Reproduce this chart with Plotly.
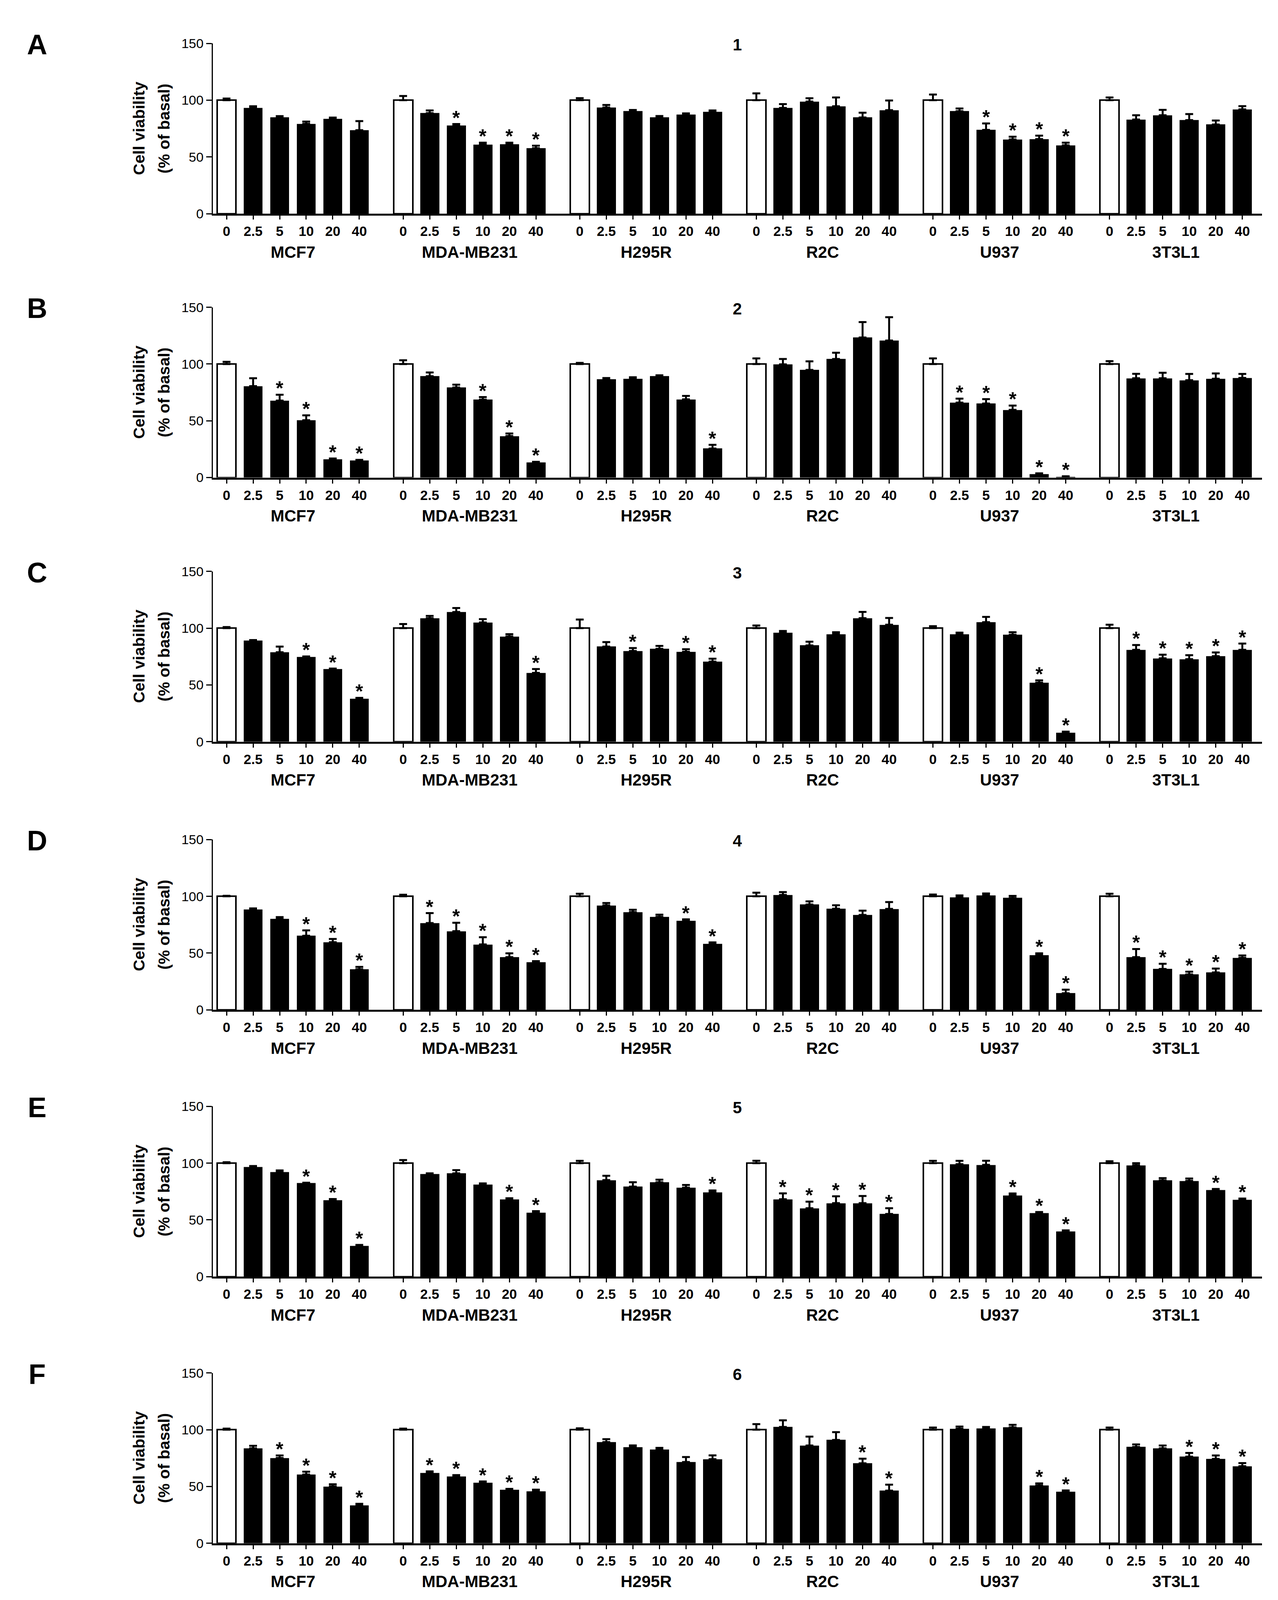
import plotly.graph_objects as go

# ---------------- data ----------------
CELL_LINES = ["MCF7", "MDA-MB231", "H295R", "R2C", "U937", "3T3L1"]
DOSES = ["0", "2.5", "5", "10", "20", "40"]
PANELS = ["A", "B", "C", "D", "E", "F"]
COMPOUNDS = ["1", "2", "3", "4", "5", "6"]
Y_TICKS = [0, 50, 100, 150]

MEAN_A = [[100, 93.2, 84.8, 79.2, 83.7, 73.6],
          [100, 88.6, 77.7, 61.0, 61.3, 57.7],
          [100, 93.6, 90.6, 85.1, 87.4, 89.7],
          [100, 93.2, 98.8, 94.7, 84.8, 91.2],
          [100, 90.3, 73.9, 65.4, 65.8, 60.3],
          [100, 83.0, 86.8, 82.5, 78.6, 91.9]]
ERR_A = [[1.5, 1.5, 1.2, 2.0, 1.0, 8.0],
         [3.7, 2.4, 1.3, 1.6, 1.3, 2.2],
         [1.8, 2.2, 0.8, 1.0, 1.0, 1.3],
         [6.0, 3.4, 2.9, 7.7, 4.2, 8.6],
         [5.0, 2.4, 5.6, 2.4, 3.0, 2.3],
         [2.4, 3.8, 4.7, 5.3, 3.5, 2.9]]
SIG_A = [[0, 0, 0, 0, 0, 0],
         [0, 0, 1, 1, 1, 1],
         [0, 0, 0, 0, 0, 0],
         [0, 0, 0, 0, 0, 0],
         [0, 0, 1, 1, 1, 1],
         [0, 0, 0, 0, 0, 0]]

MEAN_B = [[100, 80.5, 67.8, 50.5, 16.3, 15.1],
          [100, 89.3, 79.3, 68.7, 36.6, 13.4],
          [100, 86.7, 87.1, 89.3, 68.9, 25.6],
          [100, 99.7, 94.8, 104.5, 123.4, 120.7],
          [100, 66.0, 65.2, 59.6, 3.0, 0.7],
          [100, 87.5, 87.5, 85.8, 87.1, 87.8]]
ERR_B = [[2.0, 7.0, 5.2, 4.3, 0.5, 0.5],
         [3.3, 3.3, 2.5, 2.2, 2.2, 0.5],
         [1.0, 1.0, 1.3, 0.8, 3.0, 3.2],
         [5.0, 4.8, 7.6, 5.5, 13.6, 20.6],
         [5.0, 3.5, 3.9, 3.8, 0.7, 0.4],
         [2.6, 3.9, 4.8, 5.5, 4.6, 3.5]]
SIG_B = [[0, 0, 1, 1, 1, 1],
         [0, 0, 0, 1, 1, 1],
         [0, 0, 0, 0, 0, 1],
         [0, 0, 0, 0, 0, 0],
         [0, 1, 1, 1, 1, 1],
         [0, 0, 0, 0, 0, 0]]

MEAN_C = [[100, 89.0, 78.8, 74.6, 64.0, 37.8],
          [100, 108.8, 114.2, 105.0, 92.7, 60.6],
          [100, 83.8, 79.9, 81.8, 79.2, 70.5],
          [100, 95.9, 84.8, 94.7, 108.8, 103.0],
          [100, 94.7, 105.3, 94.2, 51.9, 7.9],
          [100, 80.9, 73.4, 72.7, 75.3, 80.9]]
ERR_C = [[1.0, 0.5, 5.0, 0.5, 0.4, 0.8],
         [3.6, 2.0, 3.5, 2.9, 2.0, 3.4],
         [7.6, 3.9, 2.6, 2.6, 2.2, 2.6],
         [2.3, 1.6, 3.3, 1.7, 5.5, 6.0],
         [1.7, 1.4, 4.6, 2.2, 2.1, 0.9],
         [3.0, 4.2, 3.2, 3.5, 3.3, 5.5]]
SIG_C = [[0, 0, 0, 1, 1, 1],
         [0, 0, 0, 0, 0, 1],
         [0, 0, 1, 0, 1, 1],
         [0, 0, 0, 0, 0, 0],
         [0, 0, 0, 0, 1, 1],
         [0, 1, 1, 1, 1, 1]]

MEAN_D = [[100, 88.5, 80.3, 65.3, 59.6, 35.8],
          [100, 76.5, 69.3, 57.6, 46.4, 41.9],
          [100, 92.0, 86.1, 82.0, 78.3, 58.1],
          [100, 101.2, 92.8, 89.1, 83.6, 88.9],
          [100, 99.1, 100.8, 98.6, 48.1, 14.6],
          [100, 46.4, 36.0, 31.2, 32.9, 45.8]]
ERR_D = [[0.5, 0.9, 1.4, 4.7, 2.8, 2.0],
         [1.4, 8.7, 7.4, 6.4, 3.4, 1.0],
         [2.3, 2.1, 2.1, 1.9, 1.4, 1.3],
         [3.2, 2.5, 2.8, 3.0, 3.8, 6.1],
         [1.6, 1.7, 1.7, 1.8, 1.7, 3.2],
         [2.3, 7.2, 4.6, 2.4, 3.5, 2.1]]
SIG_D = [[0, 0, 0, 1, 1, 1],
         [0, 1, 1, 1, 1, 1],
         [0, 0, 0, 0, 1, 1],
         [0, 0, 0, 0, 0, 0],
         [0, 0, 0, 0, 1, 1],
         [0, 1, 1, 1, 1, 1]]

MEAN_E = [[100, 96.8, 92.3, 82.4, 67.4, 27.1],
          [100, 90.3, 91.0, 81.3, 68.1, 56.3],
          [100, 85.1, 79.3, 83.1, 78.5, 74.3],
          [100, 68.2, 60.3, 64.8, 64.8, 55.2],
          [100, 99.1, 98.5, 71.7, 56.1, 40.0],
          [100, 98.2, 84.8, 84.4, 76.3, 67.8]]
ERR_E = [[0.8, 0.7, 1.3, 0.4, 1.0, 0.9],
         [2.7, 0.7, 2.9, 0.9, 1.0, 1.4],
         [2.0, 3.8, 3.9, 2.3, 2.3, 1.7],
         [2.1, 5.2, 5.8, 6.0, 6.3, 5.1],
         [2.0, 2.9, 3.6, 1.6, 0.9, 0.8],
         [1.7, 1.8, 2.0, 2.1, 1.0, 1.0]]
SIG_E = [[0, 0, 0, 1, 1, 1],
         [0, 0, 0, 0, 1, 1],
         [0, 0, 0, 0, 0, 1],
         [0, 1, 1, 1, 1, 1],
         [0, 0, 0, 1, 1, 1],
         [0, 0, 0, 0, 1, 1]]

MEAN_F = [[100, 83.6, 75.1, 60.5, 50.0, 33.2],
          [100, 61.8, 58.8, 53.2, 47.2, 45.6],
          [100, 89.1, 84.7, 82.4, 71.5, 74.0],
          [100, 102.4, 86.1, 91.0, 70.4, 46.3],
          [100, 100.9, 101.3, 102.1, 50.9, 45.3],
          [100, 84.8, 83.6, 76.3, 74.3, 67.8]]
ERR_F = [[1.0, 2.2, 2.2, 2.5, 1.9, 1.5],
         [1.0, 1.5, 1.2, 1.2, 0.7, 1.6],
         [1.2, 2.6, 1.5, 1.6, 4.4, 3.4],
         [4.9, 5.9, 7.8, 6.9, 4.1, 5.3],
         [1.9, 1.9, 1.1, 2.2, 1.8, 1.2],
         [1.9, 2.2, 2.5, 3.2, 3.0, 2.8]]
SIG_F = [[0, 0, 1, 1, 1, 1],
         [0, 1, 1, 1, 1, 1],
         [0, 0, 0, 0, 0, 0],
         [0, 0, 0, 0, 1, 1],
         [0, 0, 0, 0, 1, 1],
         [0, 0, 0, 1, 1, 1]]

MEANS = [MEAN_A, MEAN_B, MEAN_C, MEAN_D, MEAN_E, MEAN_F]
ERRS = [ERR_A, ERR_B, ERR_C, ERR_D, ERR_E, ERR_F]
SIGS = [SIG_A, SIG_B, SIG_C, SIG_D, SIG_E, SIG_F]

# ---------------- layout constants ----------------
W, H = 3272, 5821          # reference canvas (px)
BODY_M = 8                 # default page body margin (px)
ROW_TOP_PX = [129, 1099, 2070, 3056, 4037, 5017]
PLOT_H_PX = 626
X_LEFT_PX, X_RIGHT_PX = 545, 3231
GROUP_STEP = 6.65
X_RANGE = [-0.515, 38.99]
FONT = "Liberation Sans, Arial, Helvetica, sans-serif"


def px_x(p):
    return (p - BODY_M) / (W - 2 * BODY_M)


def px_y(p):
    return 1 - (p - BODY_M) / (H - 2 * BODY_M)


fig = go.Figure()
annotations = []

positions = [g * GROUP_STEP + i for g in range(len(CELL_LINES)) for i in range(len(DOSES))]
tick_text = DOSES * len(CELL_LINES)

for r in range(6):
    n = r + 1
    xa = "x" if n == 1 else f"x{n}"
    ya = "y" if n == 1 else f"y{n}"
    vals = [v for grp in MEANS[r] for v in grp]
    errs = [e for grp in ERRS[r] for e in grp]
    sigs = [s for grp in SIGS[r] for s in grp]
    colors = ["white" if i == 0 else "black" for g in range(6) for i in range(6)]
    lw = [4 if i == 0 else 0 for g in range(6) for i in range(6)]

    fig.add_trace(go.Bar(
        x=positions, y=vals, width=0.72,
        marker=dict(color=colors, line=dict(color="black", width=lw)),
        error_y=dict(type="data", symmetric=False, array=errs,
                     arrayminus=[0] * len(errs), color="black",
                     thickness=5, width=10),
        xaxis=xa, yaxis=ya, showlegend=False, hoverinfo="skip",
    ))

    top = ROW_TOP_PX[r]
    fig.layout[("xaxis" if n == 1 else f"xaxis{n}")] = dict(
        domain=[px_x(X_LEFT_PX), px_x(X_RIGHT_PX)], anchor=ya, range=X_RANGE,
        showline=True, linecolor="black", linewidth=5, showgrid=False,
        zeroline=False, ticks="outside", ticklen=10, tickwidth=3,
        tickcolor="black", tickvals=positions, ticktext=tick_text,
        tickfont=dict(family=FONT, size=35, color="black", weight="bold"),
        fixedrange=True,
    )
    fig.layout[("yaxis" if n == 1 else f"yaxis{n}")] = dict(
        domain=[px_y(top + PLOT_H_PX), px_y(top)], anchor=xa, range=[0, 150],
        showline=True, linecolor="black", linewidth=3, showgrid=False,
        zeroline=False, ticks="outside", ticklen=14, tickwidth=3,
        tickcolor="black", tickvals=Y_TICKS,
        tickfont=dict(family=FONT, size=34, color="black"),
        fixedrange=True,
    )

    # panel letter and compound number
    annotations.append(dict(xref="paper", yref="paper", x=px_x(95), y=px_y(top + 4),
                            text=PANELS[r], showarrow=False, xanchor="center", yanchor="middle",
                            font=dict(family=FONT, size=72, color="black", weight="bold")))
    annotations.append(dict(xref="paper", yref="paper", x=px_x(1888), y=px_y(top + 5),
                            text=COMPOUNDS[r], showarrow=False, xanchor="center", yanchor="middle",
                            font=dict(family=FONT, size=42, color="black", weight="bold")))
    # y-axis title (two lines)
    ymid = px_y(top + PLOT_H_PX / 2)
    annotations.append(dict(xref="paper", yref="paper", x=px_x(356), y=ymid,
                            text="Cell viability", textangle=-90, showarrow=False,
                            xanchor="center", yanchor="middle",
                            font=dict(family=FONT, size=41, color="black", weight="bold")))
    annotations.append(dict(xref="paper", yref="paper", x=px_x(420), y=ymid,
                            text="(% of basal)", textangle=-90, showarrow=False,
                            xanchor="center", yanchor="middle",
                            font=dict(family=FONT, size=41, color="black", weight="bold")))
    # group labels (fixed pixel offset below the x axis)
    for g, name in enumerate(CELL_LINES):
        annotations.append(dict(xref=xa, yref=f"{ya} domain", x=g * GROUP_STEP + 2.5, y=0,
                                yshift=-98, text=name, showarrow=False,
                                xanchor="center", yanchor="middle",
                                font=dict(family=FONT, size=42, color="black", weight="bold")))
    # significance asterisks (fixed pixel offset above the error-bar cap)
    for k, s in enumerate(sigs):
        if s:
            annotations.append(dict(xref=xa, yref=ya, x=positions[k], y=vals[k] + errs[k],
                                    yshift=-14, text="*", showarrow=False,
                                    xanchor="center", yanchor="bottom",
                                    font=dict(family=FONT, size=50, color="black", weight="bold")))

fig.update_layout(
    autosize=True, margin=dict(l=0, r=0, t=0, b=0),
    paper_bgcolor="white", plot_bgcolor="white",
    annotations=annotations, bargap=0,
)

fig.write_html("out.html",
               default_width=f"calc(100vw - {2 * BODY_M}px)",
               default_height=f"calc(100vh - {2 * BODY_M}px)",
               config={"responsive": True, "displayModeBar": False})
